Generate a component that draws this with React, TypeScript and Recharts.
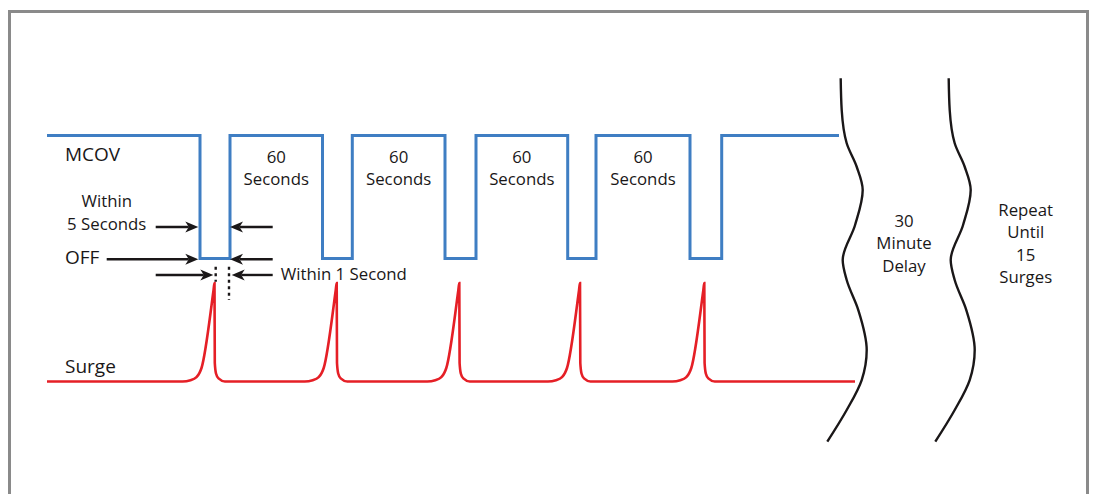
import React from 'react'
import { ComposedChart, Line, XAxis, YAxis, ReferenceLine, ReferenceDot } from 'recharts'

// x: horizontal diagram units, y: signal level (OFF = 0, MCOV = 1, surge baseline = -1)
const mcovOffStart = [153, 275.5, 398, 520.7, 643]
const mcovOffEnd = [183, 305.3, 429, 549, 674.7]
const mcovEndX = 792
const MCOV = 1
const OFF = 0

const surgePeaks = [167.5, 289.7, 412.3, 533, 657.3]
const surgeEndX = 808
const SURGE_BASE = -1
// one surge pulse, offsets from its peak
const pulseDx = [-32, -24, -18, -15, -13, -1, 0, 0.3, 1.5, 4, 10.5]
const pulseY = [-1, -0.99, -0.965, -0.93, -0.89, -0.26, -0.2, -0.85, -0.935, -0.975, -1]

// hand-drawn break marks
const waveX = [793.7, 794.7, 799.7, 809.7, 815.7, 808, 795.7, 799.7, 811.3, 819.7, 814.7, 799.7, 780.3]
const waveY = [1.465, 1.207, 0.937, 0.746, 0.557, 0.27, -0.012, -0.175, -0.419, -0.744, -0.988, -1.232, -1.489]
const waveShift = [0, 108]

const sixtyLabel = ['60', 'Seconds']

const mcovData: { x: number; y: number }[] = [{ x: 0, y: MCOV }]
mcovOffStart.forEach((s, i) => {
  mcovData.push({ x: s, y: MCOV }, { x: s, y: OFF }, { x: mcovOffEnd[i], y: OFF }, { x: mcovOffEnd[i], y: MCOV })
})
mcovData.push({ x: mcovEndX, y: MCOV })

const surgeData: { x: number; y: number }[] = [{ x: 0, y: SURGE_BASE }]
surgePeaks.forEach(p => pulseDx.forEach((d, i) => surgeData.push({ x: p + d, y: pulseY[i] })))
surgeData.push({ x: surgeEndX, y: SURGE_BASE })

const waves = waveShift.map(s => waveX.map((x, i) => ({ x: x + s, y: waveY[i] })))

const INK = '#1a1718'
const FONT = '"Open Sans", sans-serif'

const Arrow = (p: any) => {
  const { x1, y1, x2, y2 } = p
  const dir = Math.sign(x2 - x1)
  const L = 13, W = 5.5, N = 3.5
  const bx = x2 - dir * L
  const nx = x2 - dir * (L - N)
  return (
    <g>
      <line x1={x1} y1={y1} x2={nx} y2={y2} stroke={INK} strokeWidth={2.4} />
      <path d={`M${x2},${y2} L${bx},${y2 - W} L${nx},${y2} L${bx},${y2 + W} Z`} fill={INK} />
    </g>
  )
}

const Dotted = (p: any) => (
  <line x1={p.x1} y1={p.y1} x2={p.x2} y2={p.y2} stroke={INK} strokeWidth={2.4} strokeDasharray="3 3.5" />
)

const label = (lines: string[], size: number, anchor: 'start' | 'middle', lh = 22) => (p: any) => (
  <text x={p.cx} y={p.cy} fill={INK} fontSize={size} fontFamily={FONT} textAnchor={anchor}>
    {lines.map((t, i) => (
      <tspan key={i} x={p.cx} dy={i === 0 ? 0 : lh}>{t}</tspan>
    ))}
  </text>
)

export default function App() {
  const arrowRows = [
    { y: 0.256, right: [108.7, 151.3], left: [225.7, 183] },
    { y: -0.006, right: [59.7, 151.3], left: [225.7, 183] },
    { y: -0.134, right: [108.7, 166.3], left: [225.7, 184.7] },
  ]
  return (
    <div style={{ position: 'absolute', left: 0, top: 0, width: 1095, height: 494, overflow: 'hidden', background: '#fff' }}>
      <div style={{ position: 'absolute', left: 8, top: 10, width: 1081, height: 700, border: '3px solid #8a8a8a', boxSizing: 'border-box' }} />
      <div style={{ position: 'absolute', left: 0, top: 0 }}>
        <ComposedChart width={1095} height={494} margin={{ top: 74, right: 0, bottom: 51, left: 47 }}>
          <XAxis type="number" dataKey="x" domain={[0, 1048]} hide />
          <YAxis type="number" domain={[-1.5, 1.5]} hide />
          <Line data={mcovData} dataKey="y" type="linear" stroke="#3f7ec3" strokeWidth={3} dot={false} activeDot={false} isAnimationActive={false} />
          <Line data={surgeData} dataKey="y" type="monotone" stroke="#e51f26" strokeWidth={2.6} dot={false} activeDot={false} isAnimationActive={false} />
          {waves.map((w, i) => (
            <Line key={i} data={w} dataKey="y" type="monotoneY" stroke={INK} strokeWidth={2.4} dot={false} activeDot={false} isAnimationActive={false} />
          ))}
          {arrowRows.map((r, i) => (
            <ReferenceLine key={'r' + i} ifOverflow="visible" segment={[{ x: r.right[0], y: r.y }, { x: r.right[1], y: r.y }]} shape={Arrow} />
          ))}
          {arrowRows.map((r, i) => (
            <ReferenceLine key={'l' + i} ifOverflow="visible" segment={[{ x: r.left[0], y: r.y }, { x: r.left[1], y: r.y }]} shape={Arrow} />
          ))}
          <ReferenceLine ifOverflow="visible" segment={[{ x: 168.7, y: -0.067 }, { x: 168.7, y: -0.19 }]} shape={Dotted} />
          <ReferenceLine ifOverflow="visible" segment={[{ x: 182, y: -0.067 }, { x: 182, y: -0.337 }]} shape={Dotted} />
          <ReferenceDot ifOverflow="visible" x={18} y={0.793} r={0} shape={label(['MCOV'], 19, 'start')} />
          <ReferenceDot ifOverflow="visible" x={18} y={-0.045} r={0} shape={label(['OFF'], 19, 'start')} />
          <ReferenceDot ifOverflow="visible" x={18} y={-0.928} r={0} shape={label(['Surge'], 19, 'start')} />
          <ReferenceDot ifOverflow="visible" x={59.7} y={0.421} r={0} shape={label(['Within', '5 Seconds'], 16.8, 'middle', 23.3)} />
          <ReferenceDot ifOverflow="visible" x={233.7} y={-0.175} r={0} shape={label(['Within 1 Second'], 16.8, 'start')} />
          {mcovOffEnd.slice(0, 4).map((e, i) => (
            <ReferenceDot key={'s' + i} ifOverflow="visible" x={(e + mcovOffStart[i + 1]) / 2} y={0.774} r={0} shape={label(sixtyLabel, 16.8, 'middle', 21.7)} />
          ))}
          <ReferenceDot ifOverflow="visible" x={857} y={0.259} r={0} shape={label(['30', 'Minute', 'Delay'], 16.8, 'middle', 22.5)} />
          <ReferenceDot ifOverflow="visible" x={978.7} y={0.346} r={0} shape={label(['Repeat', 'Until', '15', 'Surges'], 16.8, 'middle', 22.3)} />
        </ComposedChart>
      </div>
    </div>
  )
}
